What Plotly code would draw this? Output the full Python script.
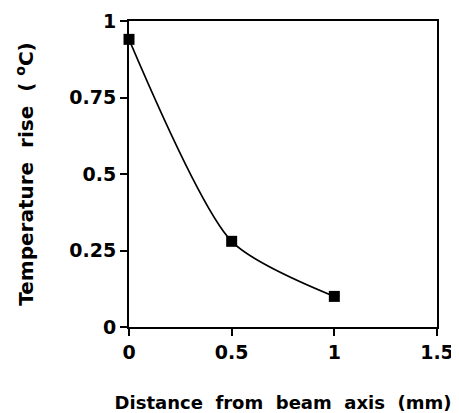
import plotly.graph_objects as go

distance_mm = [0, 0.5, 1.0]
temp_rise_c = [0.94, 0.28, 0.10]
x_ticks = [0, 0.5, 1, 1.5]
y_ticks = [0, 0.25, 0.5, 0.75, 1]

FONT = "DejaVu Sans"

fig = go.Figure()
fig.add_trace(go.Scatter(
    x=distance_mm, y=temp_rise_c,
    mode="lines+markers",
    line=dict(color="black", width=1.6, shape="spline", smoothing=0.7),
    marker=dict(symbol="square", size=11, color="black"),
    cliponaxis=False,
    showlegend=False,
))

axis_common = dict(
    showline=True, linecolor="black", linewidth=2, mirror=True,
    ticks="outside", ticklen=7, tickwidth=1.5, tickcolor="black",
    showgrid=False, zeroline=False, automargin=False,
    tickfont=dict(family=FONT, size=19, color="black", weight="bold"),
)

# page body has an 8px default margin, so the figure is sized to fit the 459x413 window
fig.update_layout(
    width=451, height=405,
    margin=dict(l=121, r=22, t=13, b=86),
    paper_bgcolor="white", plot_bgcolor="white",
    xaxis=dict(range=[0, 1.5], tickvals=x_ticks,
               title=dict(text="Distance&nbsp;&nbsp;from&nbsp;&nbsp;beam&nbsp;&nbsp;axis&nbsp;&nbsp;(mm)",
                          font=dict(family=FONT, size=18, color="black", weight="bold"),
                          standoff=37),
               **axis_common),
    yaxis=dict(range=[0, 1], tickvals=y_ticks,
               title=dict(text="Temperature&nbsp;&nbsp;rise&nbsp;&nbsp;(&nbsp;<sup>o</sup>C)",
                          font=dict(family=FONT, size=20, color="black", weight="bold"),
                          standoff=30),
               **axis_common),
)

fig.write_html("out.html")
